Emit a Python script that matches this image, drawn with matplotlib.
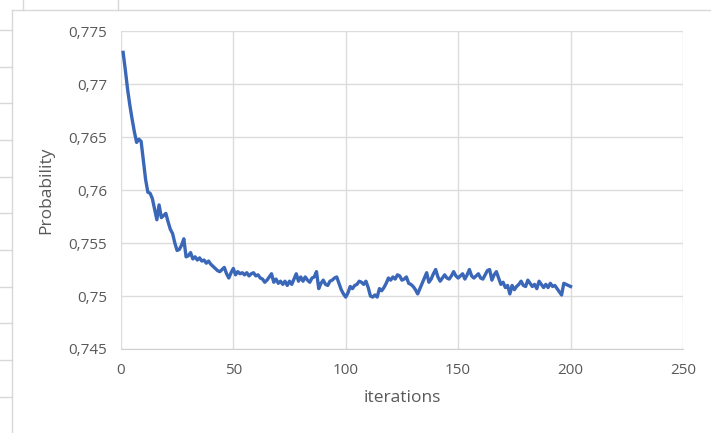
import matplotlib.pyplot as plt
from matplotlib.lines import Line2D
from matplotlib.ticker import FuncFormatter

# probability per iteration
iterations = list(range(1, 201))
probability = [
    0.7730, 0.7713, 0.7695, 0.7680, 0.7667, 0.7655, 0.7645, 0.7648, 0.7646, 0.7628,
    0.7610, 0.7598, 0.7597, 0.7592, 0.7582, 0.7572, 0.7586, 0.7574, 0.7576, 0.7578,
    0.7570, 0.7563, 0.7559, 0.7550, 0.7543, 0.7544, 0.7548, 0.7554, 0.7537, 0.7538,
    0.7541, 0.7535, 0.7537, 0.7534, 0.7536, 0.7533, 0.7534, 0.7531, 0.7533, 0.7530,
    0.7528, 0.7526, 0.7524, 0.7523, 0.7525, 0.7527, 0.7521, 0.7517, 0.7522, 0.7526,
    0.7520, 0.7523, 0.7521, 0.7522, 0.7520, 0.7522, 0.7519, 0.7521, 0.7522, 0.7519,
    0.7520, 0.7517, 0.7516, 0.7513, 0.7515, 0.7518, 0.7521, 0.7513, 0.7516, 0.7512,
    0.7514, 0.7511, 0.7514, 0.7510, 0.7514, 0.7511, 0.7516, 0.7521, 0.7514, 0.7518,
    0.7514, 0.7518, 0.7515, 0.7513, 0.7517, 0.7518, 0.7523, 0.7507, 0.7512, 0.7515,
    0.7511, 0.7510, 0.7514, 0.7515, 0.7517, 0.7518, 0.7512, 0.7506, 0.7502, 0.7499,
    0.7503, 0.7509, 0.7507, 0.7510, 0.7511, 0.7514, 0.7513, 0.7511, 0.7514, 0.7508,
    0.7500, 0.7499, 0.7501, 0.7499, 0.7507, 0.7505, 0.7508, 0.7512, 0.7517, 0.7515,
    0.7518, 0.7516, 0.7520, 0.7519, 0.7515, 0.7516, 0.7518, 0.7512, 0.7511, 0.7509,
    0.7506, 0.7502, 0.7507, 0.7512, 0.7517, 0.7522, 0.7513, 0.7516, 0.7521, 0.7525,
    0.7518, 0.7514, 0.7517, 0.7520, 0.7517, 0.7516, 0.7519, 0.7523, 0.7519, 0.7517,
    0.7519, 0.7521, 0.7516, 0.7520, 0.7525, 0.7519, 0.7517, 0.7519, 0.7521, 0.7517,
    0.7516, 0.7520, 0.7524, 0.7525, 0.7515, 0.7520, 0.7523, 0.7517, 0.7511, 0.7513,
    0.7508, 0.7510, 0.7502, 0.7510, 0.7506, 0.7509, 0.7511, 0.7514, 0.7510, 0.7509,
    0.7515, 0.7512, 0.7509, 0.7511, 0.7507, 0.7514, 0.7511, 0.7508, 0.7511, 0.7508,
    0.7512, 0.7509, 0.7510, 0.7507, 0.7504, 0.7501, 0.7512, 0.7511, 0.7510, 0.7509,
]
x_ticks = [0, 50, 100, 150, 200, 250]
y_ticks = [0.745, 0.75, 0.755, 0.76, 0.765, 0.77, 0.775]

plt.rcParams['font.family'] = ['Open Sans', 'DejaVu Sans']

fig = plt.figure(figsize=(7.11, 4.33), dpi=100)
ax = fig.add_axes([0.170, 0.194, 0.7906, 0.734])

ax.plot(iterations, probability, color='#3A67B8', linewidth=2.4, solid_joinstyle='round')

ax.set_xlim(0, 250)
ax.set_ylim(0.745, 0.775)
ax.set_xticks(x_ticks)
ax.set_yticks(y_ticks)
ax.yaxis.set_major_formatter(FuncFormatter(lambda v, p: ('%g' % round(v, 3)).replace('.', ',')))

ax.grid(color='#DCDCDC', linewidth=1.0)
ax.set_axisbelow(True)
for side in ['top', 'right', 'left']:
    ax.spines[side].set_visible(False)
ax.spines['bottom'].set_color('#D0D0D0')
ax.tick_params(length=0, labelsize=11, colors='#595959', pad=10)

ax.set_xlabel('iterations', fontsize=12.5, color='#595959', labelpad=9)
ax.set_ylabel('Probability', fontsize=12.5, color='#595959', labelpad=10)

# screenshot window edge
edge = '#D8D8D8'
fig.add_artist(Line2D([12/711, 12/711], [0, 1 - 10/433], color=edge, linewidth=1, transform=fig.transFigure))
fig.add_artist(Line2D([12/711, 1], [1 - 10/433, 1 - 10/433], color=edge, linewidth=1, transform=fig.transFigure))
for ty in [30, 67, 103, 140, 177, 213, 250, 287, 323, 360, 397]:
    fig.add_artist(Line2D([0, 12/711], [1 - ty/433, 1 - ty/433], color=edge, linewidth=1, transform=fig.transFigure))
for tx in [23, 118]:
    fig.add_artist(Line2D([tx/711, tx/711], [1, 1 - 10/433], color=edge, linewidth=1, transform=fig.transFigure))

plt.savefig('out.png')
